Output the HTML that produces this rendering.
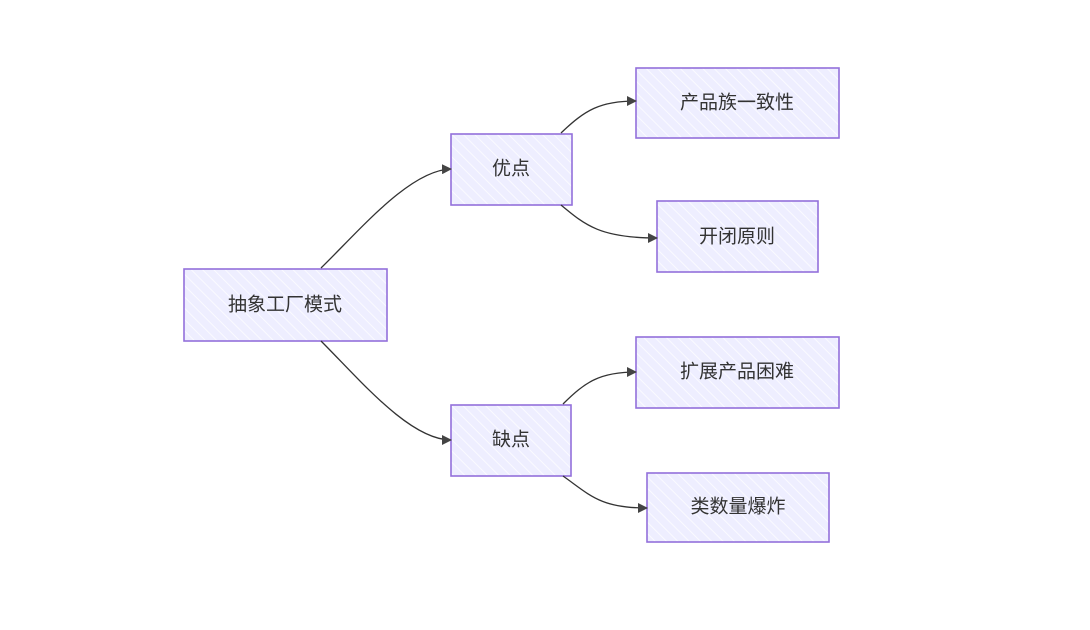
<!DOCTYPE html>
<html><head><meta charset="utf-8">
<style>
html,body{margin:0;padding:0;background:#fff;}
svg{display:block;}
text{font-family:"Liberation Sans","Noto Sans CJK SC",sans-serif;font-size:19px;fill:#333;text-anchor:middle;dominant-baseline:central;}
</style></head><body>
<svg width="1090" height="630" viewBox="0 0 1090 630" xmlns="http://www.w3.org/2000/svg">
<defs>
<pattern id="h" width="8" height="8" patternUnits="userSpaceOnUse" patternTransform="rotate(-45)">
<rect width="8" height="8" fill="#EEEEFF"/>
<line x1="0" y1="0" x2="0" y2="8" stroke="#fff" stroke-width="2" opacity="0.7"/>
</pattern>
<marker id="a" viewBox="0 0 10 10" refX="9" refY="5" markerWidth="10" markerHeight="10" markerUnits="userSpaceOnUse" orient="auto">
<path d="M0,0 L10,5 L0,10 z" fill="#444"/>
</marker>
</defs>
<g fill="url(#h)" stroke="#9370DB" stroke-width="1.6">
<rect x="184" y="269" width="203" height="72"/>
<rect x="451" y="134" width="121" height="71"/>
<rect x="451" y="405" width="120" height="71"/>
<rect x="636" y="68" width="203" height="70"/>
<rect x="657" y="201" width="161" height="71"/>
<rect x="636" y="337" width="203" height="71"/>
<rect x="647" y="473" width="182" height="69"/>
</g>
<g fill="none" stroke="#333" stroke-width="1.3" marker-end="url(#a)">
<path d="M321,268 C360,230 410,170 451,169"/>
<path d="M321,341 C360,380 410,440 451,440"/>
<path d="M561,133 C585,110 600,101 636,101"/>
<path d="M561,205 C585,225 600,238 657,238"/>
<path d="M563,404 C585,382 600,372 636,372"/>
<path d="M563,476 C590,495 600,508 647,508"/>
</g>
<text x="285" y="305">抽象工厂模式</text>
<text x="511" y="169">优点</text>
<text x="511" y="440">缺点</text>
<text x="737" y="103">产品族一致性</text>
<text x="737" y="237">开闭原则</text>
<text x="737" y="372">扩展产品困难</text>
<text x="738" y="507">类数量爆炸</text>
</svg>
</body></html>
